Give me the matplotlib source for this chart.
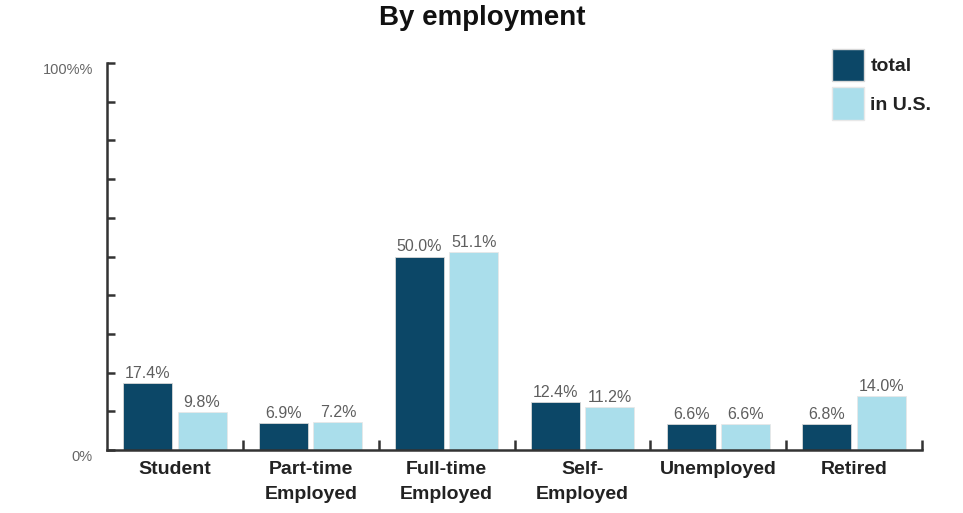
import matplotlib
matplotlib.use("Agg")
import matplotlib.pyplot as plt
import numpy as np
from matplotlib.patches import Patch

categories = ["Student", "Part-time\nEmployed", "Full-time\nEmployed", "Self-\nEmployed", "Unemployed", "Retired"]
total = [17.4, 6.9, 50.0, 12.4, 6.6, 6.8]
in_us = [9.8, 7.2, 51.1, 11.2, 6.6, 14.0]
series_names = ["total", "in U.S."]
colors = ["#0c4767", "#aadeeb"]

plt.rcParams['font.family'] = ['Liberation Sans', 'DejaVu Sans']

fig = plt.figure(figsize=(9.63, 5.13), dpi=100)
ax = fig.add_axes([107/963, 1-450/513, (922-107)/963, (450-63)/513])

x = np.arange(len(categories)) + 0.5
w = 0.36
off = 0.2
b1 = ax.bar(x - off, total, w, color=colors[0], edgecolor='#d8d8d8', linewidth=0.6)
b2 = ax.bar(x + off, in_us, w, color=colors[1], edgecolor='#e8e8e8', linewidth=0.6)

for bars, vals in ((b1, total), (b2, in_us)):
    for r, v in zip(bars, vals):
        ax.annotate(f"{v:.1f}%", (r.get_x() + r.get_width()/2, v), xytext=(0, 1.5),
                    textcoords='offset points', ha='center', va='bottom',
                    fontsize=11.5, color='#5e5e5e')

ax.set_xlim(0, len(categories))
ax.set_ylim(0, 100)

for s in ['top', 'right']:
    ax.spines[s].set_visible(False)
for s in ['left', 'bottom']:
    ax.spines[s].set_color('#333333')
    ax.spines[s].set_linewidth(1.8)

ax.set_xticks(x)
ax.set_xticklabels(categories, fontsize=14, fontweight='bold', color='#222222', linespacing=1.6)
ax.tick_params(axis='x', which='major', length=0, pad=8)
ax.set_xticks(np.arange(1, len(categories) + 1), minor=True)
ax.tick_params(axis='x', which='minor', direction='in', length=7, width=1.8, color='#333333')

ax.set_yticks([])
ax.set_yticks(np.arange(0, 101, 10), minor=True)
ax.tick_params(axis='y', which='minor', direction='in', length=6, width=1.8, color='#333333')

ax.text(-14/815, 100, "100%%", transform=ax.get_yaxis_transform(), ha='right', va='top',
        fontsize=10.5, color='#666666')
ax.text(-14/815, 0, "0%", transform=ax.get_yaxis_transform(), ha='right', va='top',
        fontsize=10.5, color='#666666')

fig.text(482/963, 1-18/513, "By employment", ha='center', va='center', fontsize=20,
         fontweight='bold', color='#111111')

handles = [Patch(facecolor=colors[0], edgecolor='#d8d8d8'), Patch(facecolor=colors[1], edgecolor='#e8e8e8')]
leg = fig.legend(handles, series_names, loc='upper left', bbox_to_anchor=(826/963, 1-43/513),
                 frameon=False, handlelength=1.63, handleheight=2.2, handletextpad=0.35,
                 labelspacing=0.3, borderaxespad=0, borderpad=0.3,
                 prop={'size': 14, 'weight': 'bold'})
for t in leg.get_texts():
    t.set_color('#222222')

fig.savefig("out.png", dpi=100)
